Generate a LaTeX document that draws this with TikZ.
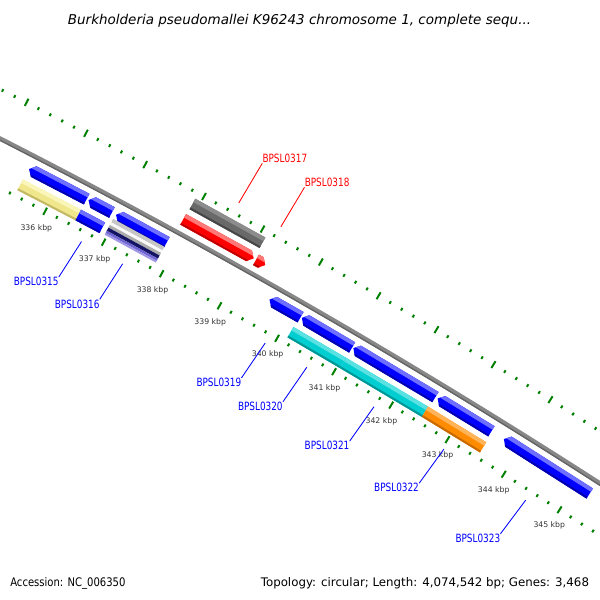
\documentclass[tikz,border=0pt]{standalone}
\usepackage{graphicx}
\usepackage{fontspec}
\setmainfont{DejaVu Sans}
\newfontfamily\genefont[FakeStretch=0.78]{DejaVu Sans}

\definecolor{geneblue}{RGB}{0,0,255}
\definecolor{genebluehi}{RGB}{110,110,255}
\definecolor{genebluelo}{RGB}{0,0,175}
\definecolor{genered}{RGB}{255,0,0}
\definecolor{generedhi}{RGB}{255,120,120}
\definecolor{generedlo}{RGB}{190,0,0}
\definecolor{catgray}{RGB}{105,105,105}
\definecolor{catgrayhi}{RGB}{140,140,140}
\definecolor{catgraylo}{RGB}{70,70,70}
\definecolor{catyellow}{RGB}{240,230,140}
\definecolor{catyellowhi}{RGB}{250,245,185}
\definecolor{catyellowlo}{RGB}{195,185,100}
\definecolor{catcyan}{RGB}{0,206,209}
\definecolor{catcyanhi}{RGB}{90,225,225}
\definecolor{catcyanlo}{RGB}{0,150,150}
\definecolor{catorange}{RGB}{255,140,0}
\definecolor{catorangehi}{RGB}{255,180,90}
\definecolor{catorangelo}{RGB}{200,105,0}
\definecolor{catnavy}{RGB}{20,20,100}
\definecolor{catslate}{RGB}{110,100,210}
\definecolor{catlavender}{RGB}{160,150,230}
\definecolor{tickgreen}{RGB}{0,128,0}
\definecolor{bbgray}{RGB}{135,135,135}
\definecolor{bbdark}{RGB}{100,100,100}
\definecolor{kbpgray}{RGB}{51,51,51}

% map position: kbp and radius (px) around the circle centre
\def\kang{0.5544}
\def\kzero{-62.37}
\newcommand{\gpt}[2]{({\kang*((#1)-336)+\kzero}:{#2})}
\newcommand{\trackband}[4]{\gpt{#1}{#3} -- \gpt{#2}{#3} -- \gpt{#2}{#4} -- \gpt{#1}{#4} -- cycle}
\newcommand{\fwdshape}[4]{\gpt{#1}{#3} -- \gpt{(#2)-0.08}{#3} -- \gpt{#2}{(#3+#4)/2} -- \gpt{(#2)-0.08}{#4} -- \gpt{#1}{#4} -- cycle}
\newcommand{\revshape}[4]{\gpt{#2}{#3} -- \gpt{(#1)+0.08}{#3} -- \gpt{#1}{(#3+#4)/2} -- \gpt{(#1)+0.08}{#4} -- \gpt{#2}{#4} -- cycle}
\newcommand{\featfill}[6]{%
  \begin{scope}
    \clip #1{#2}{#3}{#4}{#5};
    \fill[#6] \trackband{(#2)-0.05}{(#3)+0.05}{#4-1}{#5+1};
    \fill[#6hi] \trackband{(#2)-0.05}{(#3)+0.05}{#5-4}{#5+1};
    \fill[#6lo] \trackband{(#2)-0.05}{(#3)+0.05}{#4-1}{#4+2};
  \end{scope}}

\begin{document}
\begin{tikzpicture}[x=0.025cm,y=-0.025cm]
	\tikzset{
		genelab/.style={font=\genefont\fontsize{8.1}{9}\selectfont, inner sep=0pt},
		inlab/.style={genelab, text=geneblue, anchor=north east},
		outlab/.style={genelab, text=genered, anchor=south west},
		kbplab/.style={font=\fontsize{5.5}{6}\selectfont, text=kbpgray, inner sep=0pt},
		footlab/.style={font=\fontsize{8.4}{10}\selectfont, inner sep=0pt},
		leader/.style={line width=0.6pt},
		tickmark/.style={tickgreen, line width=1.4pt}
	}
	\useasboundingbox (0,0) rectangle (600,600);
	\begin{scope}
	\clip (0,0) rectangle (600,600);
	\begin{scope}[shift={(-3122.6,6263)}]
		% backbone
		\draw[bbgray, line width=3.2pt] \gpt{334}{6875} arc[start angle={\kang*(334-336)+\kzero}, end angle={\kang*(346.5-336)+\kzero}, radius=6875];
		\draw[bbdark, line width=0.9pt] \gpt{334}{6873.4} arc[start angle={\kang*(334-336)+\kzero}, end angle={\kang*(346.5-336)+\kzero}, radius=6873.4];
		% ticks, outer and inner rows
		\foreach \k in {1672,...,1732}{
			\pgfmathsetmacro\pp{\k/5}
			\pgfmathtruncatemacro\mm{mod(\k,5)}
			\ifnum\mm=0
				\draw[tickmark] \gpt{\pp}{6915} -- \gpt{\pp}{6923};
				\draw[tickmark] \gpt{\pp}{6827} -- \gpt{\pp}{6835};
			\else
				\draw[tickmark] \gpt{\pp}{6917.5} -- \gpt{\pp}{6920.5};
				\draw[tickmark] \gpt{\pp}{6829.5} -- \gpt{\pp}{6832.5};
			\fi
		}
		\foreach \kb in {336,...,345}
			\path \gpt{\kb}{6812} node[kbplab] (k\kb) {\kb\ kbp};

		% forward strand
		\featfill{\trackband}{337.90}{339.10}{6901}{6913}{catgray}
		\featfill{\fwdshape}{337.89}{339.10}{6883}{6895}{genered}
		\featfill{\fwdshape}{339.14}{339.30}{6883}{6895}{genered}

		% reverse strand
		\featfill{\revshape}{335.49}{336.47}{6855}{6867}{geneblue}
		\featfill{\revshape}{336.50}{336.90}{6855}{6867}{geneblue}
		\featfill{\revshape}{336.97}{337.84}{6855}{6867}{geneblue}
		\featfill{\revshape}{339.61}{340.15}{6855}{6867}{geneblue}
		\featfill{\revshape}{340.17}{341.05}{6855}{6867}{geneblue}
		\featfill{\revshape}{341.07}{342.51}{6855}{6867}{geneblue}
		\featfill{\revshape}{342.55}{343.50}{6855}{6867}{geneblue}
		\featfill{\revshape}{343.72}{345.25}{6855}{6867}{geneblue}

		% categories
		\featfill{\trackband}{335.48}{336.47}{6837}{6849}{catyellow}
		\featfill{\trackband}{336.47}{336.88}{6837}{6849}{geneblue}
		\featfill{\trackband}{340.13}{341.05}{6837}{6849}{catcyan}
		\featfill{\trackband}{341.05}{342.49}{6837}{6849}{catcyan}
		\featfill{\trackband}{342.49}{343.52}{6837}{6849}{catorange}
		\fill[gray!45] \trackband{336.96}{337.84}{6852}{6856};
		\fill[white!95!gray] \trackband{336.96}{337.84}{6849}{6852};
		\fill[gray!65] \trackband{336.96}{337.84}{6846}{6849};
		\fill[catnavy] \trackband{336.96}{337.84}{6842.5}{6846};
		\fill[catslate] \trackband{336.96}{337.84}{6840}{6842.5};
		\fill[catlavender] \trackband{336.96}{337.84}{6838}{6840};

		% gene labels
		\path \gpt{336.70}{6821} coordinate (t315);
		\path \gpt{337.41}{6821} coordinate (t316);
		\path \gpt{339.88}{6821} coordinate (t319);
		\path \gpt{340.61}{6821} coordinate (t320);
		\path \gpt{341.79}{6821} coordinate (t321);
		\path \gpt{343.03}{6821} coordinate (t322);
		\path \gpt{344.49}{6821} coordinate (t323);
		\path \gpt{338.50}{6930} coordinate (t317);
		\path \gpt{339.22}{6930} coordinate (t318);
		\path \gpt{336.65}{6779} node[inlab] (l315) {BPSL0315};
		\path \gpt{337.36}{6779} node[inlab] (l316) {BPSL0316};
		\path \gpt{339.83}{6779} node[inlab] (l319) {BPSL0319};
		\path \gpt{340.56}{6779} node[inlab] (l320) {BPSL0320};
		\path \gpt{341.74}{6779} node[inlab] (l321) {BPSL0321};
		\path \gpt{342.98}{6779} node[inlab] (l322) {BPSL0322};
		\path \gpt{344.44}{6779} node[inlab] (l323) {BPSL0323};
		\path \gpt{338.52}{6976} node[outlab] (l317) {BPSL0317};
		\path \gpt{339.24}{6976} node[outlab] (l318) {BPSL0318};
		\foreach \n in {315,316,319,320,321,322,323}
			\draw[leader, geneblue] (l\n.north east) -- (t\n);
		\foreach \n in {317,318}
			\draw[leader, genered] (l\n.south west) -- (t\n);
	\end{scope}
	\end{scope}

	\node[font=\itshape\fontsize{9.6}{11}\selectfont, inner sep=0pt, anchor=base] (title) at (299.5,24)
		{Burkholderia pseudomallei K96243 chromosome 1, complete sequ...};
	\node[footlab, anchor=base west] (acc) at (10,586)
		{\scalebox{0.85}[1]{Accession: NC\_006350}};
	\node[footlab, anchor=base east] (topo) at (589.3,586)
		{Topology: circular; Length: 4,074,542 bp; Genes: 3,468};
\end{tikzpicture}
\end{document}
